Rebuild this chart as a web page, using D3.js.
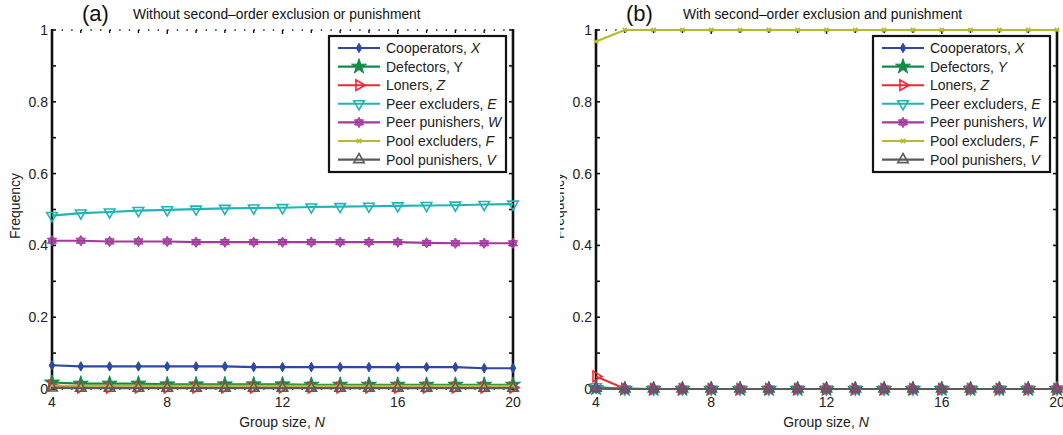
<!DOCTYPE html>
<html>
<head>
<meta charset="utf-8">
<script src="https://cdn.jsdelivr.net/npm/d3@7"></script>
<style>
  body { margin: 0; background: #fff; }
  svg { display: block; font-family: "Liberation Sans", Arial, sans-serif; }
</style>
</head>
<body>
<svg id="chart" width="1063" height="435"></svg>
<script>
// group sizes on the x axis
const groupSize = [4, 5, 6, 7, 8, 9, 10, 11, 12, 13, 14, 15, 16, 17, 18, 19, 20];
const xTickLabels = [4, 8, 12, 16, 20];
const yTickLabels = [0, 0.2, 0.4, 0.6, 0.8, 1];

// (a) without second-order exclusion or punishment
const coopA = [0.066, 0.063, 0.063, 0.063, 0.063, 0.063, 0.063, 0.061, 0.061, 0.061, 0.061, 0.061, 0.061, 0.061, 0.061, 0.058, 0.058];
const defA  = [0.018, 0.015, 0.015, 0.015, 0.013, 0.013, 0.013, 0.013, 0.013, 0.012, 0.012, 0.012, 0.012, 0.012, 0.012, 0.012, 0.012];
const lonA  = [0.010, 0.004, 0.004, 0.004, 0.004, 0.004, 0.004, 0.004, 0.004, 0.004, 0.004, 0.004, 0.004, 0.004, 0.004, 0.004, 0.004];
const peA   = [0.483, 0.490, 0.493, 0.497, 0.499, 0.501, 0.503, 0.504, 0.505, 0.507, 0.508, 0.509, 0.510, 0.511, 0.512, 0.514, 0.515];
const ppA   = [0.413, 0.413, 0.411, 0.411, 0.411, 0.409, 0.409, 0.409, 0.409, 0.409, 0.409, 0.409, 0.409, 0.407, 0.406, 0.406, 0.406];
const pexA  = [0.009, 0.009, 0.009, 0.009, 0.009, 0.009, 0.009, 0.009, 0.009, 0.009, 0.009, 0.009, 0.009, 0.009, 0.009, 0.009, 0.009];
const ppunA = [0.003, 0.002, 0.002, 0.002, 0.002, 0.002, 0.002, 0.002, 0.002, 0.002, 0.002, 0.002, 0.002, 0.002, 0.002, 0.002, 0.002];

// (b) with second-order exclusion and punishment
const coopB = [0.003, 0, 0, 0, 0, 0, 0, 0, 0, 0, 0, 0, 0, 0, 0, 0, 0];
const defB  = [0.002, 0, 0, 0, 0, 0, 0, 0, 0, 0, 0, 0, 0, 0, 0, 0, 0];
const lonB  = [0.035, 0.001, 0, 0, 0, 0, 0, 0, 0, 0, 0, 0, 0, 0, 0, 0, 0];
const peB   = [0.006, 0, 0, 0, 0, 0, 0, 0, 0, 0, 0, 0, 0, 0, 0, 0, 0];
const ppB   = [0.002, 0, 0, 0, 0, 0, 0, 0, 0, 0, 0, 0, 0, 0, 0, 0, 0];
const pexB  = [0.968, 1, 1, 1, 1, 1, 1, 1, 1, 1, 1, 1, 1, 1, 1, 1, 1];
const ppunB = [0.002, 0, 0, 0, 0, 0, 0, 0, 0, 0, 0, 0, 0, 0, 0, 0, 0];

const strategyNames = ['Cooperators, ', 'Defectors, ', 'Loners, ', 'Peer excluders, ', 'Peer punishers, ', 'Pool excluders, ', 'Pool punishers, '];
const strategySymbols = ['X', 'Y', 'Z', 'E', 'W', 'F', 'V'];
const COLORS = ['#2c4aa0', '#15894a', '#ec2a30', '#20b4b4', '#a3389e', '#b3bc2c', '#5b5b5b'];
const MARKERS = ['diamond', 'star', 'triRight', 'triDown', 'hexagram', 'times', 'triUp'];

const svg = d3.select('#chart');

// marker shapes
function markerPath(kind) {
  if (kind === 'diamond') return d3.symbol(d3.symbolDiamond, 26)();
  if (kind === 'star') return d3.symbol(d3.symbolStar, 70)();
  if (kind === 'times') return d3.symbol(d3.symbolTimes, 14)();
  if (kind.startsWith('tri')) return d3.symbol(d3.symbolTriangle, 48)();
  if (kind === 'hexagram') {
    const r = 5.2;
    const tri = a0 => d3.range(3).map(k => {
      const a = a0 + k * 2 * Math.PI / 3;
      return [r * Math.cos(a), r * Math.sin(a)];
    });
    const p = pts => 'M' + pts.map(q => q.map(v => v.toFixed(2)).join(',')).join('L') + 'Z';
    return p(tri(-Math.PI / 2)) + p(tri(Math.PI / 2));
  }
  return '';
}
function markerRotate(kind) {
  if (kind === 'triRight') return 90;
  if (kind === 'triDown') return 180;
  return 0;
}
function drawMarker(sel, kind, color) {
  const open = kind.startsWith('tri');
  sel.append('path')
    .attr('d', markerPath(kind))
    .attr('fill', open ? 'none' : color)
    .attr('fill-opacity', kind === 'hexagram' ? 0.75 : 1)
    .attr('stroke', color)
    .attr('stroke-width', kind === 'times' ? 1.6 : (open ? 1.6 : 1));
}

function drawPanel(opts) {
  const { dx, label, title, series, upright } = opts;
  const g = svg.append('g').attr('transform', `translate(${dx},0)`)
    .attr('clip-path', opts.clip ? `url(#${opts.clip})` : null);

  const x = d3.scaleLinear().domain([4, 20]).range([52, 513]);
  const y = d3.scaleLinear().domain([0, 1]).range([389, 30]);

  // frame: dotted top / bottom, solid left / right
  [y(1), y(0)].forEach(yy => {
    g.append('line').attr('x1', x(4)).attr('x2', x(20)).attr('y1', yy).attr('y2', yy)
      .attr('stroke', '#111').attr('stroke-width', 1.4).attr('stroke-dasharray', '1.4,8.2');
  });
  // x ticks (inward), top and bottom
  groupSize.forEach(n => {
    const len = n % 4 === 0 ? 4 : 3;
    g.append('line').attr('x1', x(n)).attr('x2', x(n)).attr('y1', y(1)).attr('y2', y(1) + len)
      .attr('stroke', '#111').attr('stroke-width', 1.4);
    g.append('line').attr('x1', x(n)).attr('x2', x(n)).attr('y1', y(0)).attr('y2', y(0) - len)
      .attr('stroke', '#111').attr('stroke-width', 1.4);
  });
  // y ticks every 0.1 (inward), left and right
  d3.range(0, 11).forEach(k => {
    const v = k / 10;
    g.append('line').attr('x1', x(4)).attr('x2', x(4) + 4).attr('y1', y(v)).attr('y2', y(v))
      .attr('stroke', '#111').attr('stroke-width', 1.6);
    g.append('line').attr('x1', x(20)).attr('x2', x(20) - 4).attr('y1', y(v)).attr('y2', y(v))
      .attr('stroke', '#111').attr('stroke-width', 1.6);
  });
  [x(4), x(20)].forEach(xx => {
    g.append('line').attr('x1', xx).attr('x2', xx).attr('y1', y(1) - 1).attr('y2', y(0) + 1)
      .attr('stroke', '#111').attr('stroke-width', 2.6);
  });

  // tick labels
  g.selectAll('.ylab').data(yTickLabels).join('text')
    .attr('x', x(4) - 4).attr('y', d => y(d) + 5)
    .attr('text-anchor', 'end').attr('font-size', 14).attr('fill', '#222')
    .text(d => d);
  g.selectAll('.xlab').data(xTickLabels).join('text')
    .attr('x', d => x(d)).attr('y', 407)
    .attr('text-anchor', 'middle').attr('font-size', 14).attr('fill', '#222')
    .text(d => d);

  // axis titles
  const xt = g.append('text').attr('x', 282).attr('y', 427).attr('text-anchor', 'middle')
    .attr('font-size', 14).attr('fill', '#222');
  xt.append('tspan').text('Group size, ');
  xt.append('tspan').attr('font-style', 'italic').text('N');
  g.append('text').attr('transform', 'translate(20,206) rotate(-90)')
    .attr('text-anchor', 'middle').attr('font-size', 14).attr('fill', '#222').text('Frequency');

  // panel titles
  g.append('text').attr('x', 82).attr('y', 21).attr('font-size', 22).attr('fill', '#111').text(label);
  g.append('text').attr('x', opts.titleX).attr('y', 19).attr('font-size', 13.8).attr('fill', '#111').text(title);

  // series
  const line = d3.line().x((d, i) => x(groupSize[i])).y(d => y(d));
  series.forEach((vals, s) => {
    const sg = g.append('g');
    sg.append('path').datum(vals).attr('d', line)
      .attr('fill', 'none').attr('stroke', COLORS[s]).attr('stroke-width', 2.1)
      .attr('stroke-linejoin', 'round');
    vals.forEach((v, i) => {
      const m = sg.append('g')
        .attr('transform', `translate(${x(groupSize[i])},${y(v)}) rotate(${markerRotate(MARKERS[s])})`);
      drawMarker(m, MARKERS[s], COLORS[s]);
    });
  });

  // legend
  const lx = opts.legendX, ly = 36, lw = 177, lh = 136;
  const lg = g.append('g');
  lg.append('rect').attr('x', lx).attr('y', ly).attr('width', lw).attr('height', lh)
    .attr('fill', '#fff').attr('stroke', '#111').attr('stroke-width', 2.2);
  strategyNames.forEach((name, s) => {
    const ry = ly + 12 + s * 18.6;
    lg.append('line').attr('x1', lx + 9).attr('x2', lx + 51).attr('y1', ry).attr('y2', ry)
      .attr('stroke', COLORS[s]).attr('stroke-width', 2.1);
    const m = lg.append('g').attr('transform', `translate(${lx + 30},${ry}) rotate(${markerRotate(MARKERS[s])})`);
    drawMarker(m, MARKERS[s], COLORS[s]);
    const t = lg.append('text').attr('x', lx + 57).attr('y', ry + 5)
      .attr('font-size', 14).attr('fill', '#222');
    t.append('tspan').text(name);
    t.append('tspan').attr('font-style', (upright && s === 1) ? 'normal' : 'italic').text(strategySymbols[s]);
  });
}

svg.append('defs').append('clipPath').attr('id', 'clipB')
  .append('rect').attr('x', 16).attr('y', 0).attr('width', 520).attr('height', 435);

drawPanel({
  dx: 0, label: '(a)', title: 'Without second\u2012order exclusion or punishment', titleX: 133,
  series: [coopA, defA, lonA, peA, ppA, pexA, ppunA], legendX: 329, upright: true
});
drawPanel({
  dx: 544, label: '(b)', title: 'With second\u2012order exclusion and punishment', titleX: 139,
  series: [coopB, defB, lonB, peB, ppB, pexB, ppunB], legendX: 329, upright: false, clip: 'clipB'
});
</script>
</body>
</html>
